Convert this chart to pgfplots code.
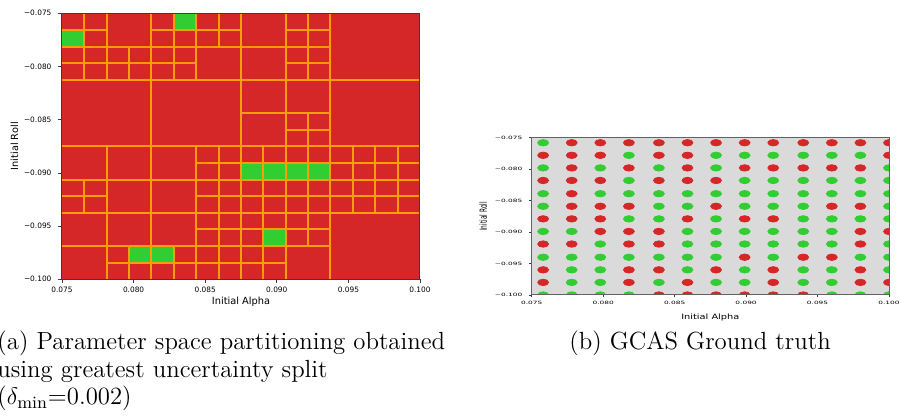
\documentclass[border=0pt]{standalone}
\usepackage{fontspec}
\usepackage{pgfplots}
\pgfplotsset{compat=1.18}
\newfontfamily\dejavu{DejaVu Sans}

\definecolor{cellred}{HTML}{D62728}
\definecolor{cellgreen}{HTML}{32CD32}
\definecolor{edgeorange}{HTML}{FC9C06}
\definecolor{panelgray}{HTML}{DADADA}
\definecolor{spine}{HTML}{3C3C3C}

\begin{document}
\begin{tikzpicture}
\useasboundingbox (0,0) rectangle (450.5pt,209pt);

% (a) partition, drawn on a 16x16 grid of cells (1 cell = 0.0015625)
\begin{axis}[
    at={(31pt,69.35pt)}, anchor=south west,
    scale only axis, width=179pt, height=133pt,
    xmin=0, xmax=16, ymin=0, ymax=16,
    axis on top,
    axis line style={spine, line width=0.5pt},
    tick pos=left, tick align=outside,
    major tick length=1.75pt,
    tick style={spine, line width=0.4pt},
    xtick={0,3.2,6.4,9.6,12.8,16},
    xticklabels={0.075,0.080,0.085,0.090,0.095,0.100},
    ytick={0,3.2,6.4,9.6,12.8,16},
    yticklabels={−0.100,−0.095,−0.090,−0.085,−0.080,−0.075},
    tick label style={font=\dejavu\fontsize{3.7}{4}\selectfont},
    xticklabel style={yshift=1.2pt},
    label style={font=\dejavu\fontsize{4.9}{5.5}\selectfont},
    xlabel style={yshift=5pt},
    ylabel shift=-4pt,
    xlabel={Initial Alpha}, ylabel={Initial Roll},
    unbounded coords=jump,
]
\addplot[fill=cellred, draw=none] coordinates {(0,0) (16,0) (16,16) (0,16) (0,0)};
% safe cells
\addplot[fill=cellgreen, draw=none] coordinates {(0,14) (1,14) (1,15) (0,15) (0,14)};
\addplot[fill=cellgreen, draw=none] coordinates {(5,15) (6,15) (6,16) (5,16) (5,15)};
\addplot[fill=cellgreen, draw=none] coordinates {(8,6) (12,6) (12,7) (8,7) (8,6)};
\addplot[fill=cellgreen, draw=none] coordinates {(9,2) (10,2) (10,3) (9,3) (9,2)};
\addplot[fill=cellgreen, draw=none] coordinates {(3,1) (5,1) (5,2) (3,2) (3,1)};
% horizontal split lines
\addplot[edgeorange, line width=1pt] coordinates {
    (0,15) (2,15) (nan,nan) (4,15) (8,15) (nan,nan) (10,15) (12,15) (nan,nan)
    (0,14) (12,14) (nan,nan)
    (0,13) (6,13) (nan,nan) (10,13) (12,13) (nan,nan)
    (0,12) (16,12) (nan,nan)
    (8,10) (12,10) (nan,nan)
    (10,9) (12,9) (nan,nan)
    (0,8) (16,8) (nan,nan)
    (6,7) (16,7) (nan,nan)
    (0,6) (16,6) (nan,nan)
    (0,5) (2,5) (nan,nan) (6,5) (16,5) (nan,nan)
    (0,4) (16,4) (nan,nan)
    (6,3) (12,3) (nan,nan)
    (0,2) (12,2) (nan,nan)
    (2,1) (10,1)
};
% vertical split lines
\addplot[edgeorange, line width=1pt] coordinates {
    (1,12) (1,16) (nan,nan) (1,4) (1,6) (nan,nan)
    (2,12) (2,16) (nan,nan) (2,0) (2,8) (nan,nan)
    (3,12) (3,14) (nan,nan) (3,0) (3,2) (nan,nan)
    (4,0) (4,16) (nan,nan)
    (5,12) (5,16) (nan,nan) (5,0) (5,2) (nan,nan)
    (6,12) (6,16) (nan,nan) (6,0) (6,8) (nan,nan)
    (7,14) (7,16) (nan,nan) (7,0) (7,8) (nan,nan)
    (8,0) (8,16) (nan,nan)
    (9,0) (9,8) (nan,nan)
    (10,0) (10,16) (nan,nan)
    (11,12) (11,16) (nan,nan) (11,2) (11,10) (nan,nan)
    (12,0) (12,16) (nan,nan)
    (13,4) (13,8) (nan,nan)
    (14,4) (14,8) (nan,nan)
    (15,4) (15,8)
};
\end{axis}

% (b) ground truth samples
\begin{axis}[
    at={(265.85pt,61.5pt)}, anchor=south west,
    scale only axis, width=178.65pt, height=78.65pt,
    xmin=0.075, xmax=0.1, ymin=-0.1, ymax=-0.075,
    axis background/.style={fill=panelgray},
    axis on top,
    clip marker paths=true,
    scaled ticks=false,
    axis line style={spine!80, line width=0.5pt},
    tick pos=left, tick align=outside,
    major tick length=1.2pt,
    tick style={spine, line width=0.3pt},
    xtick={0.075,0.08,0.085,0.09,0.095,0.1},
    xticklabels={0.075,0.080,0.085,0.090,0.095,0.100},
    ytick={-0.1,-0.095,-0.09,-0.085,-0.08,-0.075},
    yticklabels={−0.100,−0.095,−0.090,−0.085,−0.080,−0.075},
    tick label style={font=\dejavu\fontsize{3.7}{4}\selectfont, yscale=0.6},
    xlabel style={font=\dejavu\fontsize{4.9}{5.5}\selectfont, yscale=0.75},
    ylabel style={font=\dejavu\fontsize{4.9}{5.5}\selectfont, xscale=0.6},
    ylabel shift=-3pt,
    xlabel={Initial Alpha}, ylabel={Initial Roll},
]
\addplot[edgeorange, line width=0.6pt] coordinates {(0.075,-0.1) (0.075,-0.075)};
\addplot[cellgreen, only marks, mark=*, mark size=1.6pt,
    mark options={fill=cellgreen, draw=cellgreen, xscale=1.7}] coordinates {
    (0.0758,-0.0758)
    (0.0818,-0.0778) (0.0879,-0.0778) (0.0899,-0.0778) (0.0919,-0.0778) (0.0940,-0.0778) (0.0960,-0.0778) (0.0980,-0.0778)
    (0.0758,-0.0798) (0.0798,-0.0798) (0.0839,-0.0798) (0.0879,-0.0798) (0.1000,-0.0798)
    (0.0818,-0.0818) (0.0899,-0.0818) (0.0919,-0.0818) (0.0940,-0.0818) (0.0960,-0.0818) (0.0980,-0.0818) (0.1000,-0.0818)
    (0.0758,-0.0839) (0.0798,-0.0839) (0.0818,-0.0839) (0.0839,-0.0839) (0.0859,-0.0839) (0.0879,-0.0839) (0.0899,-0.0839) (0.0919,-0.0839) (0.0940,-0.0839) (0.0960,-0.0839) (0.0980,-0.0839) (0.1000,-0.0839)
    (0.0758,-0.0859) (0.0839,-0.0859) (0.0859,-0.0859) (0.0899,-0.0859) (0.0919,-0.0859) (0.0940,-0.0859) (0.1000,-0.0859)
    (0.0818,-0.0879) (0.0839,-0.0879) (0.0879,-0.0879) (0.0940,-0.0879) (0.0960,-0.0879) (0.0980,-0.0879) (0.1000,-0.0879)
    (0.0758,-0.0899) (0.0778,-0.0899) (0.0859,-0.0899) (0.0879,-0.0899) (0.0899,-0.0899) (0.0919,-0.0899) (0.0940,-0.0899) (0.0960,-0.0899)
    (0.0798,-0.0919) (0.0859,-0.0919) (0.0879,-0.0919) (0.0899,-0.0919) (0.0919,-0.0919) (0.0940,-0.0919) (0.0960,-0.0919) (0.1000,-0.0919)
    (0.0758,-0.0940) (0.0778,-0.0940) (0.0798,-0.0940) (0.0818,-0.0940) (0.0839,-0.0940) (0.0859,-0.0940) (0.0879,-0.0940) (0.0919,-0.0940) (0.0980,-0.0940) (0.1000,-0.0940)
    (0.0778,-0.0960) (0.0798,-0.0960) (0.0859,-0.0960) (0.0899,-0.0960) (0.0940,-0.0960) (0.0960,-0.0960) (0.1000,-0.0960)
    (0.0778,-0.0980) (0.0798,-0.0980) (0.0839,-0.0980) (0.0879,-0.0980) (0.0899,-0.0980) (0.0940,-0.0980) (0.0960,-0.0980)
    (0.0758,-0.1000) (0.0778,-0.1000) (0.0798,-0.1000) (0.0818,-0.1000) (0.0960,-0.1000) (0.0980,-0.1000) (0.1000,-0.1000)
};
\addplot[cellred, only marks, mark=*, mark size=1.6pt,
    mark options={fill=cellred, draw=cellred, xscale=1.7}] coordinates {
    (0.0778,-0.0758) (0.0798,-0.0758) (0.0818,-0.0758) (0.0839,-0.0758) (0.0859,-0.0758) (0.0879,-0.0758) (0.0899,-0.0758) (0.0919,-0.0758) (0.0940,-0.0758) (0.0960,-0.0758) (0.0980,-0.0758) (0.1000,-0.0758)
    (0.0758,-0.0778) (0.0778,-0.0778) (0.0798,-0.0778) (0.0839,-0.0778) (0.0859,-0.0778) (0.1000,-0.0778)
    (0.0778,-0.0798) (0.0818,-0.0798) (0.0859,-0.0798) (0.0899,-0.0798) (0.0919,-0.0798) (0.0940,-0.0798) (0.0960,-0.0798) (0.0980,-0.0798)
    (0.0758,-0.0818) (0.0778,-0.0818) (0.0798,-0.0818) (0.0839,-0.0818) (0.0859,-0.0818) (0.0879,-0.0818)
    (0.0778,-0.0839)
    (0.0778,-0.0859) (0.0798,-0.0859) (0.0818,-0.0859) (0.0879,-0.0859) (0.0960,-0.0859) (0.0980,-0.0859)
    (0.0758,-0.0879) (0.0778,-0.0879) (0.0798,-0.0879) (0.0859,-0.0879) (0.0899,-0.0879) (0.0919,-0.0879)
    (0.0798,-0.0899) (0.0818,-0.0899) (0.0839,-0.0899) (0.0980,-0.0899) (0.1000,-0.0899)
    (0.0758,-0.0919) (0.0778,-0.0919) (0.0818,-0.0919) (0.0839,-0.0919) (0.0980,-0.0919)
    (0.0899,-0.0940) (0.0940,-0.0940) (0.0960,-0.0940)
    (0.0758,-0.0960) (0.0818,-0.0960) (0.0839,-0.0960) (0.0879,-0.0960) (0.0919,-0.0960) (0.0980,-0.0960)
    (0.0758,-0.0980) (0.0818,-0.0980) (0.0859,-0.0980) (0.0919,-0.0980) (0.0980,-0.0980) (0.1000,-0.0980)
    (0.0839,-0.1000) (0.0859,-0.1000) (0.0879,-0.1000) (0.0899,-0.1000) (0.0919,-0.1000) (0.0940,-0.1000)
};
\end{axis}

% sub-captions
\begin{scope}[every node/.style={anchor=base west, inner sep=0pt, font=\fontsize{12.4}{14}\selectfont}]
\node at (-1.5pt,34pt) {(a) Parameter space partitioning obtained};
\node at (-1.5pt,20.25pt) {using greatest uncertainty split};
\node at (-1.5pt,6.5pt) {($\delta_{\min}$=0.002)};
\node at (284.5pt,34pt) {(b) GCAS Ground truth};
\end{scope}
\end{tikzpicture}
\end{document}
